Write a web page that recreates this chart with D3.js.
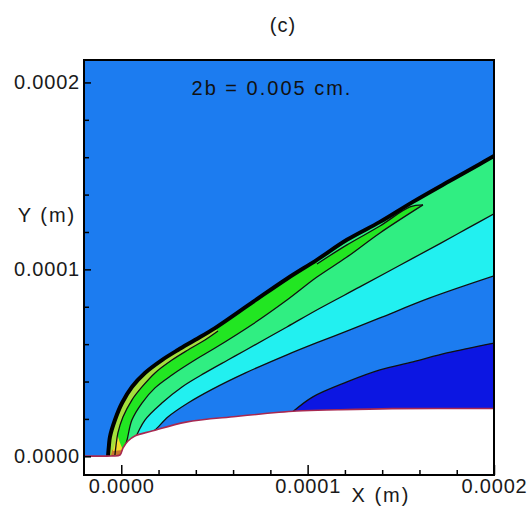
<!DOCTYPE html>
<html>
<head>
<meta charset="utf-8">
<script src="https://cdn.jsdelivr.net/npm/d3@7"></script>
<style>
  body { margin: 0; background: #fff; }
  text { font-family: "Liberation Sans", Arial, sans-serif; }
</style>
</head>
<body>
<div id="chart"></div>
<script>
// all coordinates are in units of 1e-4 m

// outer shock edge
const shockX = [-0.071, -0.066, -0.061, -0.034, 0.004, 0.057, 0.127, 0.218, 0.304, 0.395, 0.503, 0.707, 0.889, 1.050, 1.211, 1.388, 1.565, 1.764, 1.925, 2.0];
const shockY = [0.002, 0.060, 0.103, 0.194, 0.285, 0.371, 0.446, 0.515, 0.569, 0.622, 0.686, 0.826, 0.950, 1.051, 1.158, 1.254, 1.361, 1.474, 1.564, 1.607];

// yellow-green / green contour
const line0X = [-0.034, -0.028, -0.018, 0.009, 0.057, 0.111, 0.181, 0.272, 0.358, 0.449, 0.519];
const line0Y = [0.007, 0.060, 0.125, 0.210, 0.301, 0.371, 0.446, 0.515, 0.569, 0.622, 0.670];

// green tongue: lower contour up to the tip, then upper contour back
const line1X = [0.020, 0.031, 0.057, 0.111, 0.181, 0.272, 0.395, 0.503, 0.707, 0.889, 1.050, 1.211, 1.388, 1.619];
const line1Y = [0.050, 0.087, 0.194, 0.285, 0.366, 0.435, 0.515, 0.579, 0.708, 0.836, 0.959, 1.066, 1.195, 1.345];
const tongueX = [1.050, 1.211, 1.388, 1.549];
const tongueY = [1.029, 1.131, 1.232, 1.334];

// spring green / cyan contour
const line2X = [0.068, 0.127, 0.218, 0.326, 0.449, 0.572, 0.664, 0.889, 1.066, 1.280, 1.495, 1.710, 1.855, 2.0];
const line2Y = [0.080, 0.194, 0.285, 0.371, 0.446, 0.515, 0.566, 0.692, 0.792, 0.906, 1.022, 1.138, 1.218, 1.297];

// cyan / blue contour
const line3X = [0.154, 0.181, 0.250, 0.358, 0.487, 0.664, 0.889, 1.050, 1.227, 1.388, 1.656, 2.0];
const line3Y = [0.125, 0.141, 0.210, 0.285, 0.358, 0.445, 0.543, 0.608, 0.676, 0.740, 0.847, 0.965];

// blue / dark blue contour
const line4X = [0.920, 1.028, 1.211, 1.388, 1.565, 1.747, 2.0];
const line4Y = [0.238, 0.318, 0.398, 0.462, 0.505, 0.553, 0.606];

// body surface
const bodyX = [-0.2, -0.055, -0.007, 0.009, 0.036, 0.073, 0.164, 0.347, 0.615, 0.942, 1.163, 1.453, 2.0];
const bodyY = [0.002, 0.002, 0.007, 0.044, 0.082, 0.109, 0.135, 0.183, 0.213, 0.242, 0.249, 0.255, 0.256];

// small hot spots at the nose
const yellowX = [-0.045, -0.032, -0.022, -0.008, 0.009];
const yellowY = [0.028, 0.075, 0.118, 0.075, 0.034];
const orangeX = [-0.055, -0.048, 0.015, 0.010];
const orangeY = [0.005, 0.035, 0.045, 0.005];

const xTicks = [0, 1, 2];
const xTickLabels = ["0.0000", "0.0001", "0.0002"];
const xMinor = [0.2, 0.4, 0.6, 0.8, 1.2, 1.4, 1.6, 1.8];
const yTicks = [0, 1, 2];
const yTickLabels = ["0.0000", "0.0001", "0.0002"];
const yMinor = [0.2, 0.4, 0.6, 0.8, 1.2, 1.4, 1.6, 1.8];

const colBg = "#1c7cf0";
const colDark = "#0c16e2";
const colCyan = "#22f0f0";
const colSpring = "#30ee82";
const colGreen = "#22e622";
const colYellowGreen = "#a4e03c";

const width = 530, height = 514;
const x = d3.scaleLinear().domain([-0.2, 2.0]).range([84, 494]);
const y = d3.scaleLinear().domain([-0.1, 2.12]).range([475, 60]);
const yMin = -0.1;

const svg = d3.select("#chart").append("svg")
  .attr("width", width)
  .attr("height", height);

svg.append("clipPath").attr("id", "plot")
  .append("rect")
  .attr("x", x(-0.2)).attr("y", y(2.12))
  .attr("width", x(2.0) - x(-0.2)).attr("height", y(yMin) - y(2.12));

const pts = (xs, ys) => xs.map((v, i) => [v, ys[i]]);
const smooth = d3.line().x(d => x(d[0])).y(d => y(d[1])).curve(d3.curveCatmullRom.alpha(0.5));
const straight = d3.line().x(d => x(d[0])).y(d => y(d[1]));

// join several pieces (smooth curves or straight runs) into one closed shape
function shape(pieces) {
  return pieces.map((p, i) => {
    const s = (p.straight ? straight : smooth)(p.pts);
    return i === 0 ? s : "L" + s.slice(1);
  }).join("") + "Z";
}
function under(xs, ys) {
  return shape([
    { pts: pts(xs, ys) },
    { pts: [[xs[xs.length - 1], yMin], [xs[0], yMin]], straight: true }
  ]);
}

const g = svg.append("g").attr("clip-path", "url(#plot)");

g.append("rect")
  .attr("x", x(-0.2)).attr("y", y(2.12))
  .attr("width", x(2.0) - x(-0.2)).attr("height", y(yMin) - y(2.12))
  .attr("fill", colBg);

g.append("path").attr("d", under(shockX, shockY)).attr("fill", colSpring);

// bright green tongue
const cut = shockX.indexOf(1.050);
const tonguePts = pts(tongueX, tongueY).concat([[line1X[line1X.length - 1], line1Y[line1Y.length - 1]]]);
g.append("path")
  .attr("d", shape([
    { pts: pts(shockX.slice(0, cut + 1), shockY.slice(0, cut + 1)) },
    { pts: tonguePts },
    { pts: pts(line1X, line1Y).reverse() }
  ]))
  .attr("fill", colGreen);

// yellow-green band along the shock near the nose
const cut0 = shockX.indexOf(0.503);
g.append("path")
  .attr("d", shape([
    { pts: pts(shockX.slice(0, cut0 + 1), shockY.slice(0, cut0 + 1)) },
    { pts: pts(line0X, line0Y).reverse() }
  ]))
  .attr("fill", colYellowGreen);

g.append("path").attr("d", under(line2X, line2Y)).attr("fill", colCyan);
g.append("path").attr("d", under(line3X, line3Y)).attr("fill", colBg);
g.append("path").attr("d", under(line4X, line4Y)).attr("fill", colDark);

g.append("path").attr("d", shape([{ pts: pts(orangeX, orangeY), straight: true }])).attr("fill", "#c8782c");
g.append("path").attr("d", shape([{ pts: pts(yellowX, yellowY), straight: true }])).attr("fill", "#f2dc2c");

// contour lines
const contourSets = [
  pts(line0X, line0Y),
  pts(line1X, line1Y),
  tonguePts,
  pts(line2X, line2Y),
  pts(line3X, line3Y),
  pts(line4X, line4Y)
];
g.selectAll("path.contour")
  .data(contourSets)
  .join("path")
  .attr("class", "contour")
  .attr("d", smooth)
  .attr("fill", "none")
  .attr("stroke", "#101010")
  .attr("stroke-width", 1.3);

g.append("path")
  .attr("d", smooth(pts(shockX, shockY)))
  .attr("fill", "none")
  .attr("stroke", "#000")
  .attr("stroke-width", 4);

// body
g.append("path").attr("d", under(bodyX, bodyY)).attr("fill", "#fff");
g.append("path")
  .attr("d", smooth(pts(bodyX, bodyY)))
  .attr("fill", "none")
  .attr("stroke", "#a82850")
  .attr("stroke-width", 1.6);

// frame
svg.append("rect")
  .attr("x", x(-0.2)).attr("y", y(2.12))
  .attr("width", x(2.0) - x(-0.2)).attr("height", y(yMin) - y(2.12))
  .attr("fill", "none").attr("stroke", "#000").attr("stroke-width", 2);

// axes
function style(sel) {
  sel.select(".domain").remove();
  sel.selectAll("line").attr("stroke", "#000").attr("stroke-width", 1.5);
  sel.selectAll("text")
    .attr("font-family", "Liberation Sans, Arial, sans-serif")
    .attr("font-size", 20)
    .attr("letter-spacing", 0.8)
    .attr("fill", "#1a1a1a");
}

svg.append("g").attr("transform", `translate(0,${y(yMin)})`)
  .call(d3.axisBottom(x).tickValues(xMinor).tickSize(-5).tickFormat(""))
  .call(style);
svg.append("g").attr("transform", `translate(0,${y(yMin)})`)
  .call(d3.axisBottom(x).tickValues(xTicks).tickSize(-10).tickPadding(4)
    .tickFormat((d, i) => xTickLabels[i]))
  .call(style);

svg.append("g").attr("transform", `translate(${x(-0.2)},0)`)
  .call(d3.axisLeft(y).tickValues(yMinor).tickSize(-5).tickFormat(""))
  .call(style);
svg.append("g").attr("transform", `translate(${x(-0.2)},0)`)
  .call(d3.axisLeft(y).tickValues(yTicks).tickSize(-7).tickPadding(4)
    .tickFormat((d, i) => yTickLabels[i]))
  .call(style);

// labels
svg.append("text").attr("x", 283).attr("y", 32)
  .attr("text-anchor", "middle").attr("font-size", 20).attr("letter-spacing", 1)
  .attr("fill", "#1a1a1a")
  .text("(c)");
svg.append("text").attr("x", 272).attr("y", 95)
  .attr("text-anchor", "middle").attr("font-size", 20).attr("letter-spacing", 2)
  .attr("fill", "#111")
  .text("2b = 0.005 cm.");
svg.append("text").attr("x", 47).attr("y", 222)
  .attr("text-anchor", "middle").attr("font-size", 20).attr("letter-spacing", 2)
  .attr("fill", "#1a1a1a")
  .text("Y (m)");
svg.append("text").attr("x", 381).attr("y", 502)
  .attr("text-anchor", "middle").attr("font-size", 20).attr("letter-spacing", 2)
  .attr("fill", "#1a1a1a")
  .text("X (m)");
</script>
</body>
</html>
